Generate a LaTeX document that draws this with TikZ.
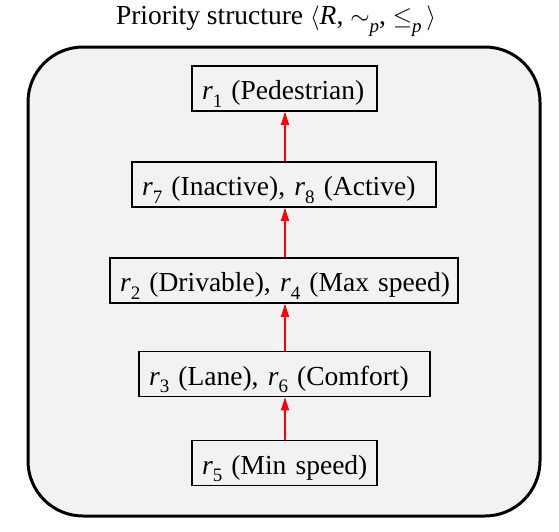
\documentclass[tikz,border=0pt]{standalone}
\usepackage{fontspec}
\setmainfont{Liberation Serif}
\usetikzlibrary{arrows.meta}
\newcommand{\lowsub}[1]{\raisebox{-0.28em}{\fontsize{19}{20}\selectfont #1}}
\newcommand{\rsub}[1]{\textit{r}\lowsub{#1}}
\begin{document}
\begin{tikzpicture}[x=1pt,y=-1pt,
  rulebox/.style={draw=black, line width=1.6pt, fill=none, minimum height=45pt,
    text height=24pt, text depth=2pt,
    inner xsep=10pt, align=left, font=\fontsize{27.5}{31}\selectfont},
  prio/.style={draw={rgb,255:red,255;green,0;blue,0}, fill=red, line width=1.3pt, -{Triangle[width=8pt,length=13pt]}}]
\useasboundingbox (0,0) rectangle (559,531);
\draw[line width=3pt, fill={rgb,255:red,242;green,242;blue,242}, rounded corners=55pt] (28,47) rectangle (540,516);
\node[font=\fontsize{27.5}{31}\selectfont] (title) at (276,21) {Priority structure $\langle$\textit{R}, $\sim$\lowsub{\textit{p}}, $\leq$\lowsub{\textit{p}}\,$\rangle$};
\node[rulebox, text width=165pt] (r1) at (284.5,88.5) {\mbox{\rsub{1} (Pedestrian)}};
\node[rulebox, text width=284pt] (r78) at (284,184.5) {\mbox{\rsub{7} (Inactive), \rsub{8} (Active)}};
\node[rulebox, text width=328pt] (r24) at (284,280.5) {\mbox{\rsub{2} (Drivable), \rsub{4} (Max speed)}};
\node[rulebox, text width=271pt] (r36) at (284.5,374) {\mbox{\rsub{3} (Lane), \rsub{6} (Comfort)}};
\node[rulebox, text width=165pt] (r5) at (284.5,463) {\mbox{\rsub{5} (Min speed)}};
\draw[prio] (r5.north -| 285,0) -- (r36.south -| 285,0);
\draw[prio] (r36.north -| 285,0) -- (r24.south -| 285,0);
\draw[prio] (r24.north -| 285,0) -- (r78.south -| 285,0);
\draw[prio] (r78.north -| 285,0) -- (r1.south -| 285,0);
\end{tikzpicture}
\end{document}
